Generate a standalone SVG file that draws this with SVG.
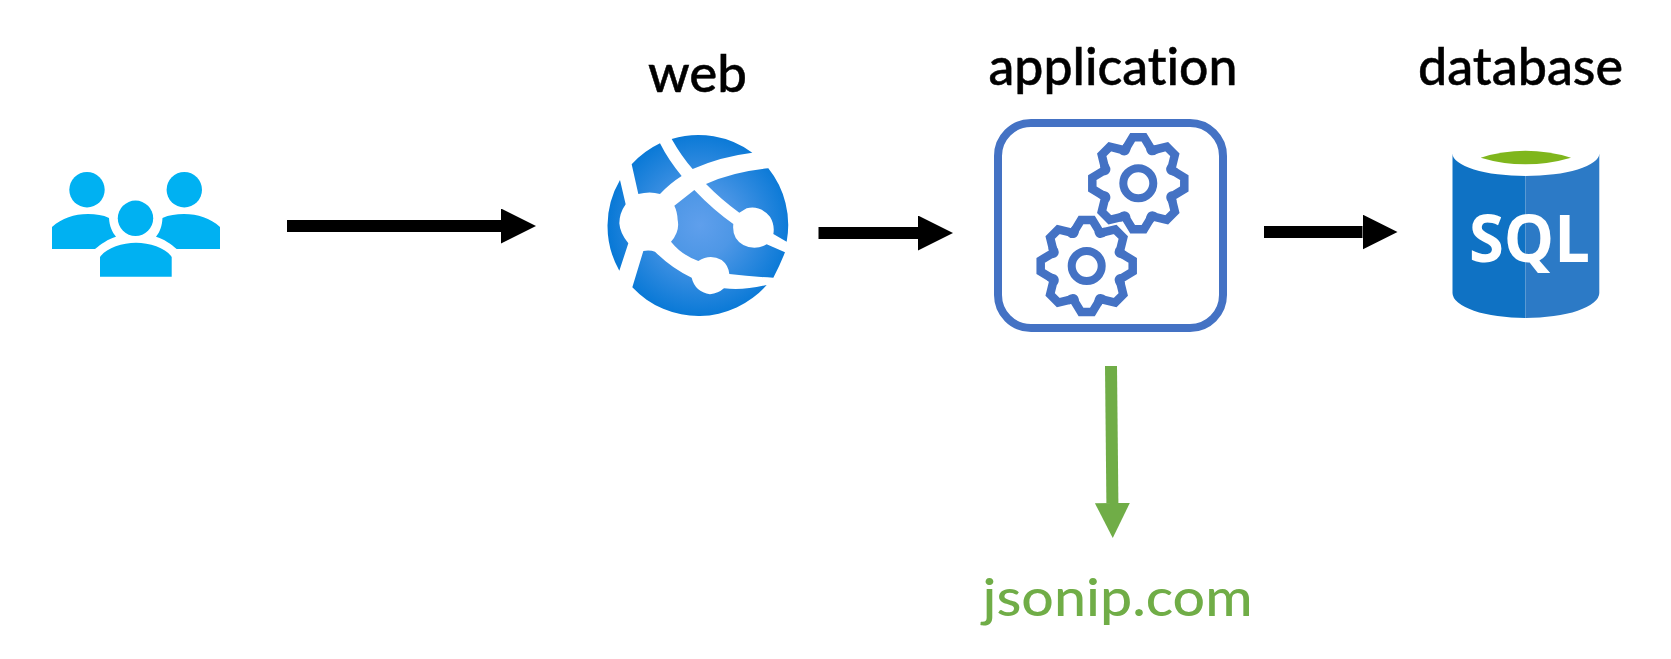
<svg xmlns="http://www.w3.org/2000/svg" xmlns:xlink="http://www.w3.org/1999/xlink" width="1671" height="659" viewBox="0 0 1671 659">
<style>
.lbl{font-family:"Lato","Liberation Sans",sans-serif;font-size:53px;font-weight:500;fill:#000;stroke:#000;stroke-width:.5px;font-variant-ligatures:none}
.grn{fill:#70AD47;stroke:none}
.usr{fill:#00B1F2}
.gl{fill:url(#gg)}
.ln{fill:none;stroke:#4472C4;stroke-width:8}
.gr{fill:none;stroke:#4472C4;stroke-width:8.5;stroke-linejoin:miter;stroke-linecap:round}
.blk{fill:none;stroke:#000;stroke-width:12;marker-end:url(#ab)}
.gar{fill:none;stroke:#70AD47;stroke-width:12;marker-end:url(#ag)}
</style>
<defs>
<marker id="ab" markerUnits="userSpaceOnUse" markerWidth="36" markerHeight="36" refX="0" refY="17.5" orient="auto"><polygon points="0,0 35,17.5 0,35" fill="#000"/></marker>
<marker id="ag" markerUnits="userSpaceOnUse" markerWidth="36" markerHeight="36" refX="0" refY="17.5" orient="auto"><polygon points="0,0 35,17.5 0,35" fill="#70AD47"/></marker>
<radialGradient id="gg" gradientUnits="userSpaceOnUse" cx="300" cy="300" r="280"><stop offset="0" stop-color="#5F9FEC"/><stop offset=".35" stop-color="#4E97E6"/><stop offset="1" stop-color="#0778D6"/></radialGradient>
<g id="gear">
<circle r="15" class="ln"/>
<g id="t4"><g id="t2"><g id="t1"><path class="gr" d="M-11.700,-36.100L-5.700,-46H5.700L11.700,-36.100Q12.200,-29.600 17.250,-33.900"/></g><use xlink:href="#t1" href="#t1" transform="rotate(45)"/></g><use xlink:href="#t2" href="#t2" transform="rotate(90)"/></g><use xlink:href="#t4" href="#t4" transform="rotate(180)"/>
</g>
</defs>
<rect width="1671" height="659" fill="#fff"/>
<g id="connectors">
<path class="blk" d="M287,226H501"/>
<path class="blk" d="M818.5,233H918"/>
<path class="blk" d="M1264,232H1362.5"/>
<path class="gar" d="M1111,366L1112.4,503"/>
</g>
<g id="users">
<circle class="usr" cx="87" cy="189.7" r="17.7"/>
<circle class="usr" cx="184.3" cy="189.7" r="17.7"/>
<circle class="usr" cx="135.5" cy="218.3" r="17.7"/>
<path class="usr" d="M52,227C62,218 74,214 88,214C96,214 103,215 109,218C109.500,226 112,232 116,236.700C108,239 101,244 95,249H52Z"/>
<path class="usr" d="M220,227C210,218 198,214 184,214C176,214 169,215 162.500,218C162,226 160,232 156,236.700C164,239 171,244 176.700,249H220Z"/>
<path class="usr" d="M100,257C106,248 122,242.700 136,242.700C150,242.700 166,248 171.700,257V276.700H100Z"/>
</g>
<g id="web">
<text class="lbl" x="648" y="92" textLength="99" lengthAdjust="spacingAndGlyphs">web</text>
<g transform="translate(600 125) scale(.33333)">
<path class="gl" d="M60,165L77,238Q58,265 58,295Q60,325 85,355L58,437A272,272 0 0 1 60,165Z"/>
<path class="gl" d="M95,118A272,272 0 0 1 180,55Q205,105 245,153Q210,175 180,207Q150,198 115,207Z"/>
<path class="gl" d="M215,42A272,272 0 0 1 457,83Q360,95 278,132Q245,95 215,42Z"/>
<path class="gl" d="M318,177Q400,140 505,130A272,272 0 0 1 560,350L520,327Q525,300 510,275Q480,240 440,250L418,263Q365,225 318,177Z"/>
<path class="gl" d="M283,195Q340,255 400,297Q395,340 430,360Q465,378 500,358L555,382Q540,420 520,458Q450,455 388,447Q385,420 365,405Q330,385 295,408Q245,390 213,350Q240,320 233,285Q232,260 223,242Z"/>
<path class="gl" d="M130,378Q150,375 165,380Q215,430 275,458Q285,500 330,508Q355,505 372,490Q430,497 500,480A272,272 0 0 1 97,487Z"/>
</g>
</g>
<g id="application">
<text class="lbl" x="988.500" y="85" textLength="249" lengthAdjust="spacingAndGlyphs">application</text>
<rect class="ln" x="998" y="123" width="225" height="205" rx="33"/>
<use xlink:href="#gear" href="#gear" transform="translate(1138.300 183.300)"/>
<use xlink:href="#gear" href="#gear" transform="translate(1086.700 266)"/>
</g>
<g id="database">
<text class="lbl" x="1418" y="85" textLength="205" lengthAdjust="spacingAndGlyphs">database</text>
<path fill="#0F72C4" d="M1452.500,153.500A73,22.500 0 0 0 1525.500,176V318A73,25 0 0 1 1452.500,293Z"/>
<path fill="#2C7AC6" d="M1599.300,153.500A73.800,22.500 0 0 1 1525.500,176V318A73.800,25 0 0 0 1599.300,293Z"/>
<path fill="#7FB61C" d="M1480.700,157.700Q1525,144 1571,157.700Q1525,171 1480.700,157.700Z"/>
<text x="1469" y="261.700" font-family="'Open Sans','Liberation Sans',sans-serif" font-weight="700" font-size="67" fill="#fff" textLength="121" lengthAdjust="spacingAndGlyphs">SQL</text>
</g>
<g id="jsonip">
<text class="lbl grn" x="982.500" y="615.700" textLength="270" lengthAdjust="spacingAndGlyphs">jsonip.com</text>
</g>
</svg>
